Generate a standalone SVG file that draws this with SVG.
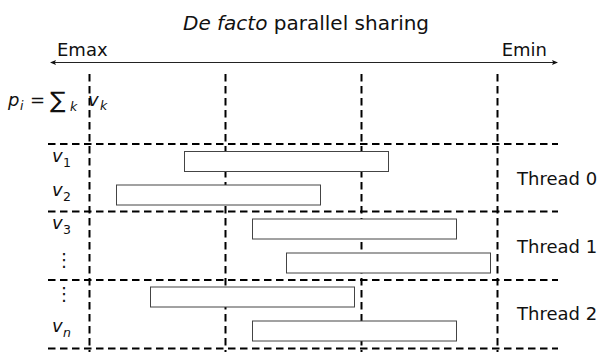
<svg xmlns="http://www.w3.org/2000/svg" width="604" height="352" viewBox="0 0 604 352">
  <defs>
    <style>
      text { font-family: "DejaVu Sans", "Liberation Sans", sans-serif; fill: #111; }
      .title { font-size: 20px; }
      .lbl { font-size: 18px; }
      .m { font-size: 18px; font-style: italic; }
      .sub { font-size: 12.5px; font-style: italic; }
      .subn { font-size: 12.5px; }
      .op { font-size: 23px; }
      .grid { stroke: #000; stroke-width: 2; stroke-dasharray: 7.5 4.5; fill: none; }
      .bar { fill: #fff; stroke: #444; stroke-width: 1; }
      .axis { stroke: #222; stroke-width: 1; fill: none; }
    </style>
    <marker id="head" viewBox="0 0 6 6" refX="5" refY="3" markerWidth="6" markerHeight="6" orient="auto-start-reverse" markerUnits="userSpaceOnUse">
      <path d="M0,0.6 L6,3 L0,5.4 L1.2,3 Z" fill="#111"/>
    </marker>
  </defs>

  <rect width="604" height="352" fill="#fff"/>

  <!-- title -->
  <text class="title" x="183" y="30"><tspan font-style="italic">De facto</tspan> parallel sharing</text>

  <!-- energy axis -->
  <g id="axis">
    <line class="axis" x1="51" y1="62.5" x2="557" y2="62.5" marker-start="url(#head)" marker-end="url(#head)"/>
    <text class="lbl" x="57" y="56">Emax</text>
    <text class="lbl" x="547" y="56" text-anchor="end">Emin</text>
  </g>

  <!-- priority formula -->
  <g id="formula">
    <text class="m" x="8" y="106">p</text>
    <text class="sub" x="20" y="110">i</text>
    <text class="lbl" x="30" y="106">=</text>
    <text class="op" x="50" y="108">∑</text>
    <text class="sub" x="70" y="111">k</text>
    <text class="m" x="88" y="106">v</text>
    <text class="sub" x="100" y="110">k</text>
  </g>

  <!-- dashed grid -->
  <g id="grid">
    <line class="grid" x1="89.5" y1="74" x2="89.5" y2="352"/>
    <line class="grid" x1="225.5" y1="74" x2="225.5" y2="352"/>
    <line class="grid" x1="361.5" y1="74" x2="361.5" y2="352"/>
    <line class="grid" x1="497.5" y1="74" x2="497.5" y2="352"/>
    <line class="grid" x1="48" y1="144" x2="558" y2="144"/>
    <line class="grid" x1="48" y1="211.5" x2="558" y2="211.5"/>
    <line class="grid" x1="48" y1="280" x2="558" y2="280"/>
    <line class="grid" x1="48" y1="348.5" x2="558" y2="348.5"/>
  </g>

  <!-- row labels -->
  <g id="rows">
    <text class="m" x="52" y="162">v</text><text class="subn" x="63" y="167">1</text>
    <text class="m" x="52" y="196">v</text><text class="subn" x="63" y="201">2</text>
    <text class="m" x="52" y="229">v</text><text class="subn" x="63" y="234">3</text>
    <text class="lbl" x="55" y="266">⋮</text>
    <text class="lbl" x="55" y="300">⋮</text>
    <text class="m" x="52" y="332">v</text><text class="sub" x="63" y="337">n</text>
  </g>

  <!-- task bars -->
  <g id="bars">
    <rect id="bar-v1" class="bar" x="184.5" y="151.5" width="204" height="20"/>
    <rect id="bar-v2" class="bar" x="116.5" y="185" width="204" height="20"/>
    <rect id="bar-v3" class="bar" x="252.5" y="219" width="204" height="20"/>
    <rect id="bar-v4" class="bar" x="286.5" y="253" width="204" height="20"/>
    <rect id="bar-v5" class="bar" x="150.5" y="287" width="204" height="20"/>
    <rect id="bar-vn" class="bar" x="252.5" y="321" width="204" height="20"/>
  </g>

  <!-- thread labels -->
  <g id="threads">
    <text class="lbl" x="517" y="185">Thread 0</text>
    <text class="lbl" x="517" y="252.5">Thread 1</text>
    <text class="lbl" x="517" y="320">Thread 2</text>
  </g>
</svg>
